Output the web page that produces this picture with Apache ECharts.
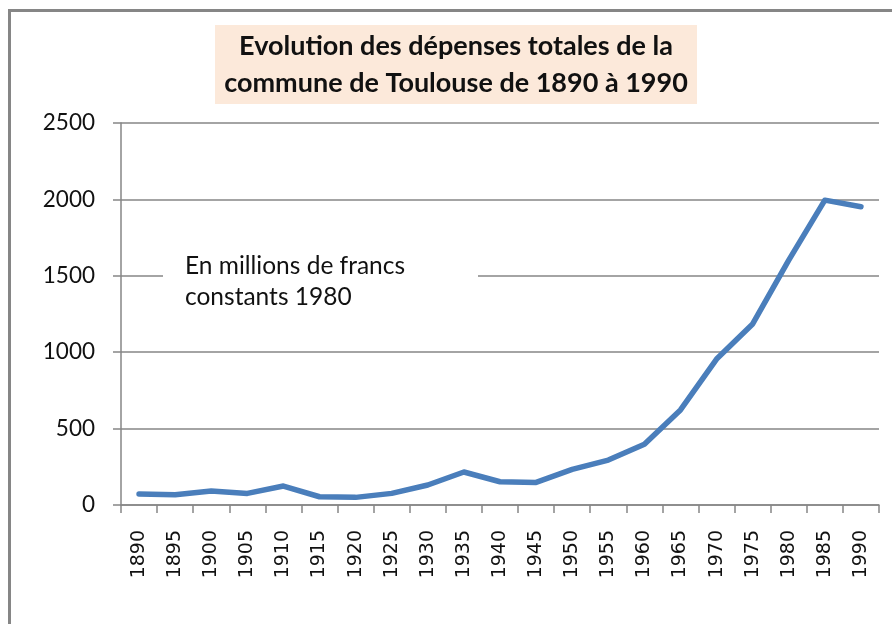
<!DOCTYPE html>
<html>
<head>
<meta charset="utf-8">
<script src="https://cdn.jsdelivr.net/npm/echarts@6/dist/echarts.min.js"></script>
<style>
html,body{margin:0;padding:0;background:#fff;}
#chart{width:892px;height:624px;}
</style>
</head>
<body>
<div id="chart"></div>
<script>
const years = ['1890','1895','1900','1905','1910','1915','1920','1925','1930','1935','1940','1945','1950','1955','1960','1965','1970','1975','1980','1985','1990'];
const depenses = [72, 67, 92, 76, 124, 54, 50, 76, 131, 216, 152, 148, 233, 294, 397, 622, 955, 1185, 1603, 1995, 1952];
const yTicks = [0, 500, 1000, 1500, 2000, 2500];
const titleText = 'Evolution des dépenses totales de la\ncommune de Toulouse de 1890 à 1990';
const noteText = 'En millions de francs\nconstants 1980';

const chart = echarts.init(document.getElementById('chart'), null, {renderer: 'canvas'});
const axisGray = '#868686';
chart.setOption({
  animation: false,
  backgroundColor: '#fff',
  grid: {left: 121, right: 13, top: 123, bottom: 119, containLabel: false},
  xAxis: {
    type: 'category',
    data: years,
    boundaryGap: true,
    axisLine: {lineStyle: {color: axisGray, width: 1.5}},
    axisTick: {show: true, length: 8, lineStyle: {color: axisGray, width: 1.5}, alignWithLabel: false},
    axisLabel: {
      rotate: 90,
      interval: 0,
      margin: 25,
      fontFamily: '"DejaVu Sans", Verdana, sans-serif',
      fontSize: 19,
      color: '#111'
    },
    splitLine: {show: false}
  },
  yAxis: {
    type: 'value',
    min: yTicks[0],
    max: yTicks[yTicks.length - 1],
    interval: 500,
    axisLine: {show: true, lineStyle: {color: axisGray, width: 1.5}},
    axisTick: {show: true, length: 8, lineStyle: {color: axisGray, width: 1.5}},
    axisLabel: {
      margin: 26,
      fontFamily: 'Lato',
      fontSize: 22.5,
      color: '#111',
      formatter: function (v) { return String(v); }
    },
    splitLine: {show: true, lineStyle: {color: axisGray, width: 1.5}}
  },
  series: [{
    type: 'line',
    data: depenses,
    showSymbol: false,
    symbol: 'none',
    lineStyle: {color: '#4A7EBB', width: 5.5, cap: 'round', join: 'round'},
    z: 3
  }],
  graphic: [
    {
      type: 'rect',
      left: 7,
      top: 8,
      shape: {width: 900, height: 640},
      style: {fill: 'none', stroke: axisGray, lineWidth: 3},
      silent: true,
      z: 0
    },
    {
      type: 'rect',
      left: 215,
      top: 25,
      shape: {width: 482, height: 79},
      style: {fill: '#FCE9DA'},
      silent: true,
      z: 10
    },
    {
      type: 'text',
      x: 456,
      y: 65,
      style: {
        text: titleText,
        fontFamily: 'Lato',
        fontWeight: 'bold',
        fontSize: 27,
        lineHeight: 37,
        fill: '#111',
        align: 'center',
        verticalAlign: 'middle'
      },
      silent: true,
      z: 11
    },
    {
      type: 'rect',
      left: 163,
      top: 248,
      shape: {width: 315, height: 66},
      style: {fill: '#fff'},
      silent: true,
      z: 10
    },
    {
      type: 'text',
      left: 185,
      top: 251,
      style: {
        text: noteText,
        fontFamily: 'Lato',
        fontSize: 24.5,
        lineHeight: 31,
        fill: '#111'
      },
      silent: true,
      z: 11
    }
  ]
});
</script>
</body>
</html>
